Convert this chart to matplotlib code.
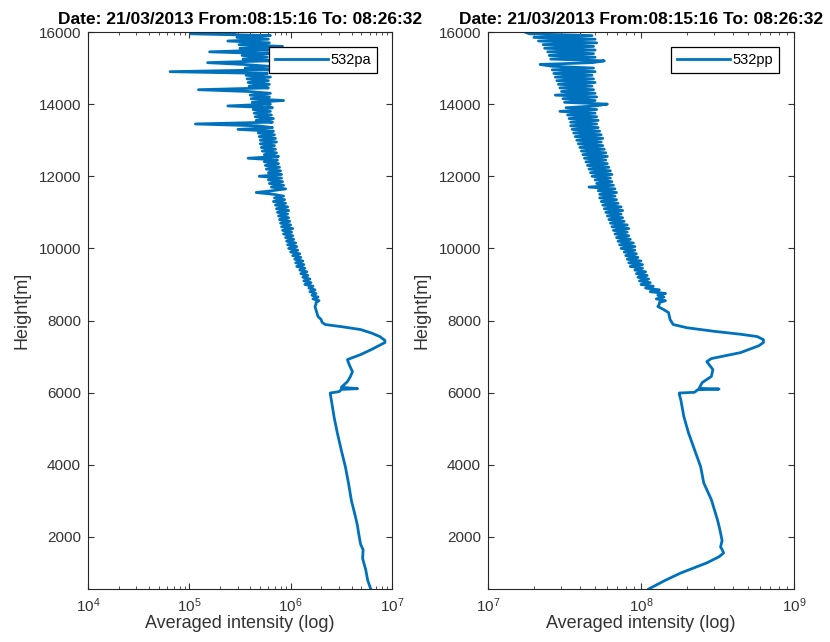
import numpy as np
import matplotlib
matplotlib.use("Agg")
import matplotlib.pyplot as plt
from matplotlib.ticker import LogLocator, FixedLocator

plt.rcParams['font.family'] = ['Liberation Sans', 'DejaVu Sans']
plt.rcParams['mathtext.fontset'] = 'custom'
plt.rcParams['mathtext.rm'] = 'Liberation Sans'

title_text = "Date: 21/03/2013 From:08:15:16 To: 08:26:32"
x_label = "Averaged intensity (log)"
y_label = "Height[m]"
y_ticks = [2000, 4000, 6000, 8000, 10000, 12000, 14000, 16000]

# ---- 532pa : lower (smooth) part, heights [m] and log10 intensity
pa_low_h = [556, 800, 1100, 1400, 1640, 1800, 2110, 2300, 2555, 3000, 3500, 3944,
            4400, 4890, 5300, 5805, 5990, 6030, 6090, 6110, 6150, 6305, 6450, 6583,
            6700, 6833, 6917, 7055, 7200, 7390, 7450, 7555, 7650, 7750, 7830, 7890,
            7950, 8030, 8110, 8200, 8300, 8390, 8450]
pa_low_log = [6.79, 6.76, 6.74, 6.71, 6.715, 6.69, 6.67, 6.66, 6.64, 6.60, 6.57, 6.54,
              6.50, 6.46, 6.43, 6.40, 6.39, 6.48, 6.50, 6.66, 6.50, 6.56, 6.59, 6.61,
              6.59, 6.57, 6.56, 6.69, 6.80, 6.93, 6.93, 6.88, 6.80, 6.69, 6.50, 6.34,
              6.31, 6.30, 6.27, 6.26, 6.25, 6.24, 6.25]
# ---- 532pa : upper (noisy) part, one value every 50 m from 8500 m to 16000 m
pa_high_log = [
    6.25, 6.28, 6.22, 6.27, 6.21, 6.25, 6.19, 6.24, 6.18, 6.22,
    6.14, 6.20, 6.13, 6.19, 6.12, 6.17, 6.10, 6.16, 6.09, 6.14,
    6.06, 6.13, 6.05, 6.12, 6.04, 6.10, 6.02, 6.09, 6.00, 6.07,
    5.98, 6.06, 5.97, 6.05, 5.96, 6.03, 5.95, 6.02, 5.93, 6.01,
    5.92, 6.02, 5.91, 6.00, 5.90, 5.99, 5.89, 5.98, 5.88, 5.97,
    5.87, 5.98, 5.86, 5.97, 5.85, 5.95, 5.83, 5.94, 5.84, 5.93,
    5.83, 5.66, 5.82, 5.95, 5.81, 5.93, 5.79, 5.92, 5.78, 5.91,
    5.69, 5.91, 5.78, 5.90, 5.76, 5.89, 5.75, 5.88, 5.74, 5.87,
    5.58, 5.88, 5.74, 5.86, 5.72, 5.85, 5.71, 5.84, 5.70, 5.86,
    5.70, 5.85, 5.69, 5.84, 5.68, 5.83, 5.48, 5.82, 5.67, 5.06,
    5.82, 5.66, 5.83, 5.65, 5.81, 5.64, 5.80, 5.63, 5.82, 5.38,
    5.80, 5.62, 5.93, 5.61, 5.79, 5.60, 5.80, 5.59, 5.09, 5.78,
    5.59, 5.79, 5.58, 5.78, 5.57, 5.80, 5.56, 5.77, 4.81, 5.79,
    5.55, 5.78, 5.54, 5.18, 5.79, 5.53, 5.77, 5.52, 5.80, 5.20,
    5.78, 5.50, 5.92, 5.49, 5.79, 5.38, 5.78, 5.47, 5.80, 5.01,
    5.45]

# ---- 532pp : lower (smooth) part
pp_low_h = [556, 800, 1000, 1280, 1450, 1555, 1650, 1720, 1900, 2110, 2300, 2470,
            2750, 3030, 3500, 3944, 4420, 4890, 5340, 5805, 5960, 5990, 6010, 6080,
            6100, 6120, 6280, 6450, 6640, 6860, 6945, 7110, 7300, 7390, 7470, 7555,
            7620, 7700, 7800, 7890, 8030, 8220, 8300, 8390, 8450]
pp_low_log = [8.05, 8.16, 8.26, 8.43, 8.51, 8.54, 8.53, 8.52, 8.53, 8.52, 8.51, 8.50,
              8.48, 8.46, 8.41, 8.39, 8.35, 8.31, 8.28, 8.26, 8.25, 8.25, 8.35, 8.37,
              8.51, 8.38, 8.40, 8.46, 8.47, 8.43, 8.46, 8.65, 8.77, 8.80, 8.80, 8.76,
              8.65, 8.48, 8.30, 8.21, 8.19, 8.18, 8.15, 8.11, 8.12]
pp_high_log = [
    8.12, 8.16, 8.10, 8.15, 8.11, 8.16, 8.06, 8.12, 8.03, 8.08,
    8.00, 8.06, 7.99, 8.05, 7.98, 8.04, 7.97, 8.03, 7.96, 8.01,
    7.93, 8.01, 7.92, 8.00, 7.91, 7.98, 7.90, 7.97, 7.89, 7.96,
    7.87, 7.96, 7.86, 7.95, 7.85, 7.93, 7.84, 7.92, 7.83, 7.91,
    7.82, 7.92, 7.81, 7.91, 7.80, 7.89, 7.79, 7.88, 7.78, 7.87,
    7.77, 7.88, 7.76, 7.87, 7.75, 7.85, 7.74, 7.84, 7.73, 7.83,
    7.73, 7.84, 7.72, 7.83, 7.66, 7.82, 7.71, 7.81, 7.70, 7.80,
    7.68, 7.81, 7.67, 7.80, 7.66, 7.79, 7.65, 7.78, 7.64, 7.77,
    7.63, 7.78, 7.62, 7.77, 7.61, 7.76, 7.60, 7.75, 7.59, 7.74,
    7.58, 7.75, 7.57, 7.74, 7.56, 7.73, 7.55, 7.72, 7.54, 7.71,
    7.54, 7.72, 7.53, 7.71, 7.52, 7.70, 7.47, 7.71, 7.51, 7.70,
    7.78, 7.50, 7.70, 7.49, 7.71, 7.44, 7.70, 7.48, 7.69, 7.47,
    7.68, 7.46, 7.70, 7.45, 7.69, 7.44, 7.68, 7.43, 7.70, 7.42,
    7.69, 7.42, 7.34, 7.68, 7.76, 7.41, 7.70, 7.40, 7.69, 7.39,
    7.70, 7.37, 7.69, 7.36, 7.71, 7.33, 7.70, 7.30, 7.68, 7.27,
    7.24]

high_h = np.arange(8500, 16001, 50)

pa_h = np.concatenate([pa_low_h, high_h])
pa_x = 10.0 ** np.concatenate([pa_low_log, pa_high_log])
pp_h = np.concatenate([pp_low_h, high_h])
pp_x = 10.0 ** np.concatenate([pp_low_log, pp_high_log])

color = '#0072BD'
text_color = '#333333'

fig = plt.figure(figsize=(8.3, 6.42), dpi=100)
W, H = 830, 642
ax1 = fig.add_axes([88 / W, 1 - 589 / H, (392 - 88) / W, (589 - 32) / H])
ax2 = fig.add_axes([488 / W, 1 - 589 / H, (794 - 488) / W, (589 - 32) / H])

panels = [(ax1, pa_x, pa_h, '532pa', (1e4, 1e7)),
          (ax2, pp_x, pp_h, '532pp', (1e7, 1e9))]

for ax, x, h, lab, xl in panels:
    ax.plot(x, h, color=color, lw=2.0, label=lab, solid_joinstyle='round')
    ax.set_xscale('log')
    ax.set_xlim(*xl)
    ax.set_ylim(556, 16000)
    ax.yaxis.set_major_locator(FixedLocator(y_ticks))
    ax.xaxis.set_major_locator(LogLocator(base=10, numticks=10))
    ax.xaxis.set_minor_locator(LogLocator(base=10, subs=np.arange(2, 10), numticks=20))
    ax.tick_params(which='both', direction='in', top=True, right=True,
                   colors=text_color, labelsize=11)
    ax.tick_params(which='major', length=4, width=0.8, pad=5)
    ax.tick_params(which='minor', length=2.5, width=0.6)
    for s in ax.spines.values():
        s.set_color('#262626')
        s.set_linewidth(0.8)
    ax.set_xlabel(x_label, fontsize=13, color=text_color, labelpad=0)
    ax.set_ylabel(y_label, fontsize=13, color=text_color, labelpad=6)
    ax.set_title(title_text, fontsize=12.5, fontweight='bold', color='black', pad=6)
    leg = ax.legend(loc='upper right', bbox_to_anchor=(0.951, 0.973), borderaxespad=0,
                    fancybox=False, framealpha=1, edgecolor='black', fontsize=10.5,
                    handlelength=3.6, borderpad=0.4, handletextpad=0.2)
    leg.get_frame().set_linewidth(0.9)

fig.savefig('out.png', dpi=100)
